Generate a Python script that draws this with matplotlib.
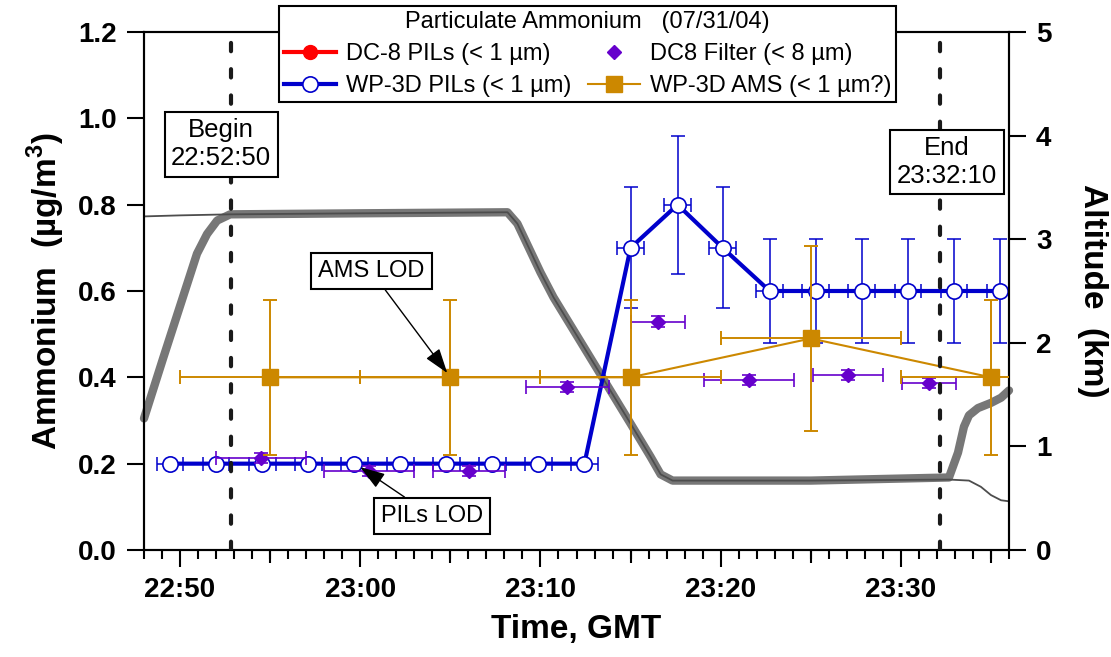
import numpy as np
import matplotlib
matplotlib.use('Agg')
import matplotlib.pyplot as plt
from matplotlib.ticker import MultipleLocator, FuncFormatter

plt.rcParams['font.family'] = ['Liberation Sans', 'DejaVu Sans']
plt.rcParams['mathtext.fontset'] = 'custom'
plt.rcParams['mathtext.rm'] = 'Liberation Sans'
plt.rcParams['mathtext.bf'] = 'Liberation Sans:bold'

# time axis in minutes after 22:00 GMT
begin_t = 52 + 50 / 60.0    # 22:52:50
end_t = 92 + 10 / 60.0      # 23:32:10

# WP-3D PILs (< 1 um)
pils_t = [49.44, 52.00, 54.56, 57.11, 59.67, 62.22, 64.78, 67.33, 69.89, 72.44,
          75.00, 77.61, 80.11, 82.72, 85.28, 87.83, 90.39, 92.94, 95.50]
pils_v = [0.20, 0.20, 0.20, 0.20, 0.20, 0.20, 0.20, 0.20, 0.20, 0.20,
          0.70, 0.80, 0.70, 0.60, 0.60, 0.60, 0.60, 0.60, 0.60]
pils_yerr = [0.0, 0.0, 0.0, 0.0, 0.0, 0.0, 0.0, 0.0, 0.0, 0.0,
             0.14, 0.16, 0.14, 0.12, 0.12, 0.12, 0.12, 0.12, 0.12]
pils_xerr = [0.74, 0.74, 0.74, 0.74, 0.74, 0.74, 0.74, 0.74, 0.74, 0.74,
             0.74, 0.74, 0.74, 0.74, 0.74, 0.74, 0.74, 0.74, 0.74]

# DC8 filter (< 8 um)
filt_t = [54.50, 60.50, 66.06, 71.50, 76.50, 81.56, 87.06, 91.56]
filt_v = [0.213, 0.183, 0.183, 0.378, 0.529, 0.394, 0.406, 0.387]
filt_xerr = [2.50, 2.50, 2.00, 2.33, 1.50, 2.50, 1.94, 1.50]
filt_yerr = [0.012, 0.012, 0.012, 0.012, 0.012, 0.012, 0.012, 0.012]

# WP-3D AMS (< 1 um?)
ams_t = [55.0, 65.0, 75.0, 85.0, 95.0]
ams_v = [0.40, 0.40, 0.40, 0.49, 0.40]
ams_xerr = [5.0, 5.0, 5.0, 5.0, 5.0]
ams_yerr = [0.18, 0.18, 0.18, 0.215, 0.18]

# DC-8 PILs (< 1 um): no points on this flight segment
dc8_pils_t = []
dc8_pils_v = []

# altitude (km)
alt_thick_t = [48.0, 49.06, 50.94, 51.50, 52.06, 52.78, 60.0, 68.17, 68.72, 70.0,
               70.72, 75.0, 76.11, 76.67, 77.33, 85.0, 92.67, 93.17, 93.50, 93.78,
               94.28, 95.0, 95.56, 96.0]
alt_thick_km = [1.27, 1.85, 2.86, 3.05, 3.18, 3.24, 3.25, 3.26, 3.15, 2.68,
                2.44, 1.22, 0.90, 0.73, 0.67, 0.67, 0.70, 0.94, 1.19, 1.30,
                1.37, 1.42, 1.47, 1.54]
alt_thin_t = [48.0, 50.0, 52.78, 60.0, 68.17, 68.72, 70.0, 70.72, 75.0, 76.11,
              76.67, 77.33, 85.0, 92.67, 93.78, 94.44, 95.0, 95.56, 96.0]
alt_thin_km = [3.22, 3.23, 3.24, 3.25, 3.26, 3.15, 2.68, 2.44, 1.22, 0.90,
               0.73, 0.67, 0.67, 0.68, 0.67, 0.61, 0.53, 0.48, 0.47]

blue = '#0000cc'
purple = '#6600cc'
orange = '#cc8800'
red = '#ff0000'

fig = plt.figure(figsize=(11.11, 6.57), dpi=100)
ax = fig.add_axes([144 / 1111, 107 / 657, 865 / 1111, 518 / 657])
ax2 = ax.twinx()
ax.set_zorder(ax2.get_zorder() + 1)
ax.patch.set_visible(False)

# altitude traces
ax2.plot(alt_thick_t, alt_thick_km, color='#777777', lw=6, solid_capstyle='round',
         solid_joinstyle='round', clip_on=False)
ax2.plot(alt_thin_t, alt_thin_km, color='#4d4d4d', lw=1.3)

# WP-3D PILs
ax.errorbar(pils_t, pils_v, xerr=pils_xerr, yerr=pils_yerr, fmt='none', ecolor=blue,
            elinewidth=1.1, capsize=5, capthick=1.1, zorder=2)
ax.plot(pils_t, pils_v, '-o', color=blue, lw=3, ms=11, mfc='white', mec=blue, mew=1.2,
        zorder=2.2, label='WP-3D PILs (< 1 µm)')

# DC8 filter
ax.errorbar(filt_t, filt_v, xerr=filt_xerr, yerr=filt_yerr, fmt='none', ecolor=purple,
            elinewidth=1.2, capsize=5, capthick=1.2, zorder=2.4)
ax.plot(filt_t, filt_v, 'D', color=purple, ms=7, zorder=2.5, label='DC8 Filter (< 8 µm)')

# WP-3D AMS
ax.errorbar(ams_t, ams_v, xerr=ams_xerr, yerr=ams_yerr, fmt='none', ecolor=orange,
            elinewidth=1.4, capsize=5, capthick=1.4, zorder=2.6)
ax.plot(ams_t, ams_v, '-s', color=orange, lw=1.5, ms=11, zorder=2.7,
        label='WP-3D AMS (< 1 µm?)')

# DC-8 PILs (legend only)
ax.plot(dc8_pils_t, dc8_pils_v, '-o', color=red, lw=3, ms=10, label='DC-8 PILs (< 1 µm)')

# begin / end markers
for t in (begin_t, end_t):
    ax.axvline(t, color='#1a1a1a', lw=3, dashes=(2.0, 4.3), dash_capstyle='round', zorder=3.5)

box = dict(boxstyle='square,pad=0.25', fc='white', ec='black', lw=1.5)
ax.text(52.28, 0.940, 'Begin\n22:52:50', ha='center', va='center', fontsize=18.5,
        bbox=box, zorder=5)
ax.text(92.56, 0.899, 'End\n23:32:10', ha='center', va='center', fontsize=18.5,
        bbox=box, zorder=5)

arrow = dict(arrowstyle='-|>,head_length=0.9,head_width=0.3', color='black', lw=1,
             shrinkA=0, shrinkB=0)
ax.annotate('AMS LOD', xy=(64.83, 0.41), xytext=(60.61, 0.646), ha='center', va='center',
            fontsize=17, bbox=dict(boxstyle='square,pad=0.3', fc='white', ec='black', lw=1.5),
            arrowprops=arrow, zorder=5)
ax.annotate('PILs LOD', xy=(60.0, 0.192), xytext=(64.0, 0.079), ha='center', va='center',
            fontsize=17, bbox=dict(boxstyle='square,pad=0.3', fc='white', ec='black', lw=1.5),
            arrowprops=arrow, zorder=5)

# axes
ax.set_xlim(48, 96)
ax.set_ylim(0, 1.2)
ax2.set_ylim(0, 5)
ax.xaxis.set_major_locator(MultipleLocator(10))
ax.xaxis.set_minor_locator(MultipleLocator(1))
ax.xaxis.set_major_formatter(FuncFormatter(lambda v, p: f'{22 + int(v) // 60}:{int(v) % 60:02d}'))
ax.yaxis.set_major_locator(MultipleLocator(0.2))
ax.yaxis.set_major_formatter(FuncFormatter(lambda v, p: f'{v:.1f}'))
ax2.yaxis.set_major_locator(MultipleLocator(1))

ax.tick_params(axis='both', which='major', direction='out', length=12.5, width=1.5,
               labelsize=20, pad=7)
ax.tick_params(axis='x', which='minor', direction='out', length=6.5, width=1.5)
ax2.tick_params(axis='y', which='major', direction='out', length=12.5, width=1.5,
                labelsize=20, pad=7)
for lab in ax.get_xticklabels() + ax.get_yticklabels() + ax2.get_yticklabels():
    lab.set_fontweight('bold')

# medium ticks at the 5-minute marks
sec = ax.secondary_xaxis('bottom')
sec.set_xticks([55, 65, 75, 85, 95])
sec.set_xticklabels([])
sec.tick_params(direction='out', length=9.5, width=1.5)
sec.spines['bottom'].set_visible(False)

for a in (ax, ax2):
    for s in a.spines.values():
        s.set_linewidth(1.5)

ax.set_xlabel('Time, GMT', fontsize=24, fontweight='bold', labelpad=8)
ax.set_ylabel('Ammonium  (µg/m$^\\mathbf{3}$)', fontsize=24, fontweight='bold', labelpad=8)
ax2.set_ylabel('Altitude  (km)', fontsize=24, fontweight='bold', rotation=270,
               va='bottom', labelpad=18)

handles, labels = ax.get_legend_handles_labels()
order = [labels.index(l) for l in ['DC-8 PILs (< 1 µm)', 'WP-3D PILs (< 1 µm)',
                                   'DC8 Filter (< 8 µm)', 'WP-3D AMS (< 1 µm?)']]
leg = ax.legend([handles[i] for i in order], [labels[i] for i in order], ncol=2,
                title='Particulate Ammonium   (07/31/04)', title_fontsize=17, fontsize=17,
                loc='upper center', bbox_to_anchor=(587.5 / 1111, 1 - 6 / 657),
                bbox_transform=fig.transFigure, borderaxespad=0, fancybox=False,
                framealpha=1, edgecolor='black', handlelength=2.2, handletextpad=0.42,
                columnspacing=0.7, labelspacing=0.42, borderpad=0.22, markerscale=1.0)
leg.get_frame().set_linewidth(1.5)
leg.set_zorder(10)

fig.savefig('out.png', dpi=100)
